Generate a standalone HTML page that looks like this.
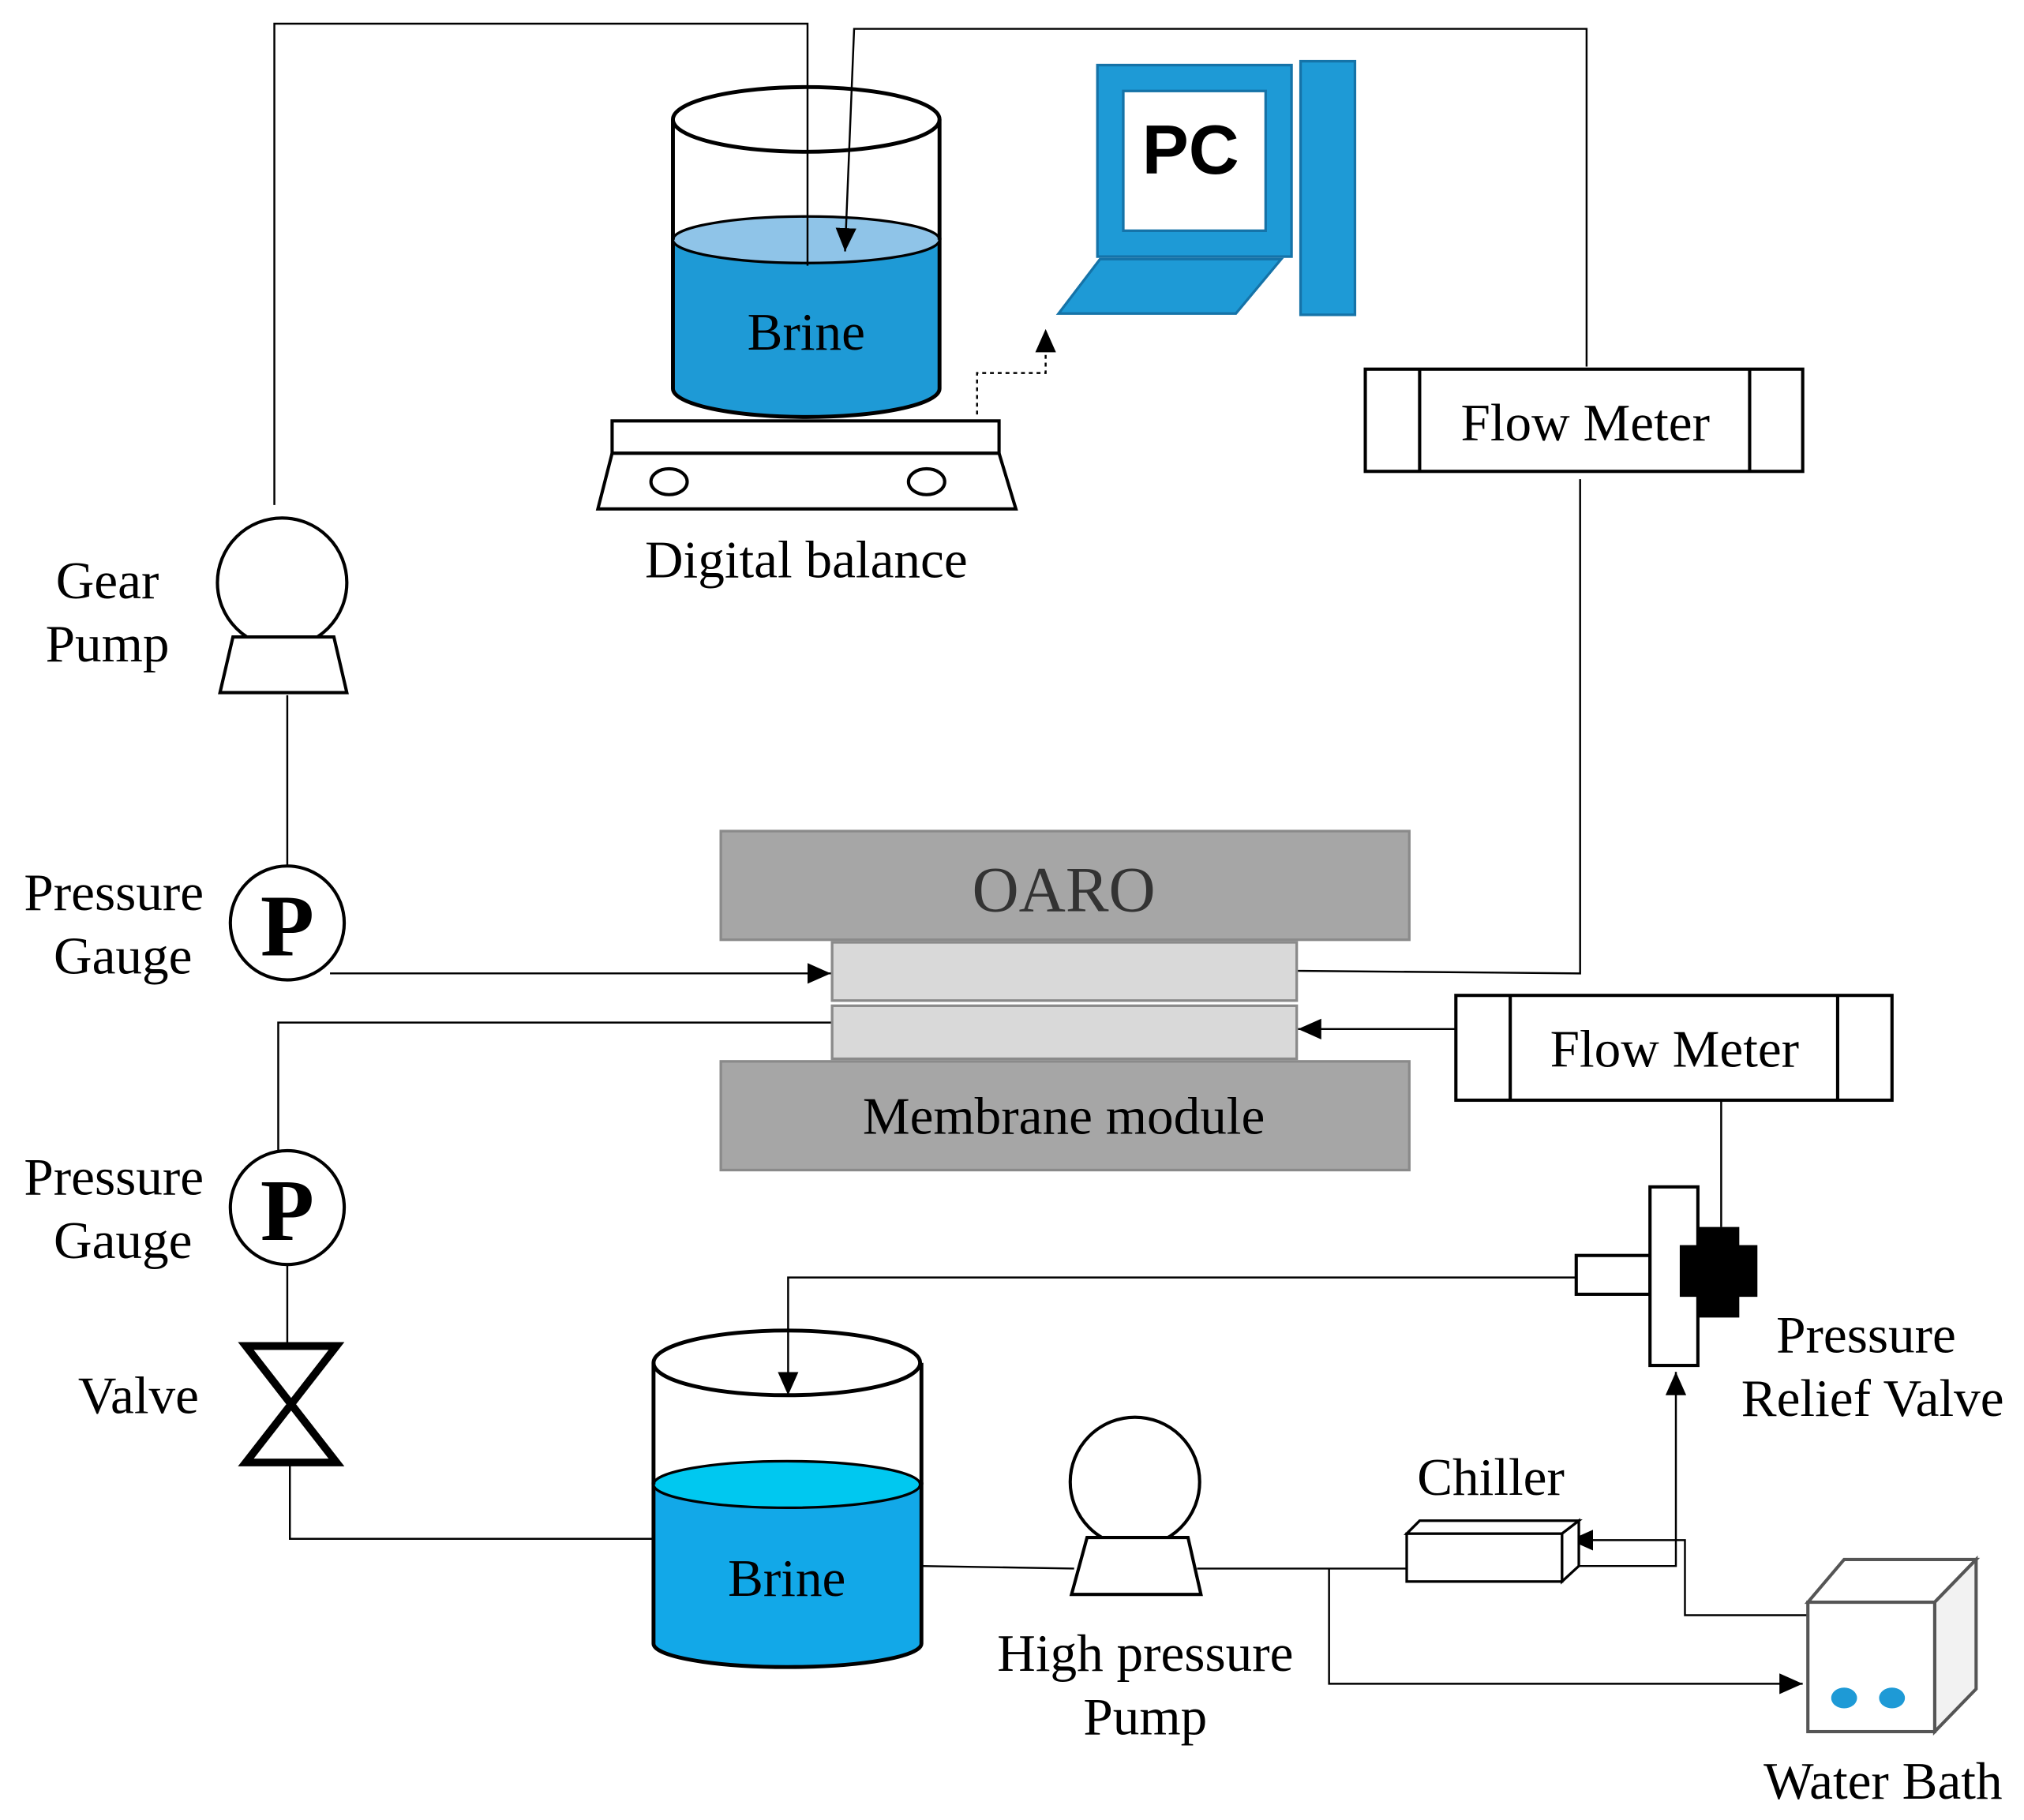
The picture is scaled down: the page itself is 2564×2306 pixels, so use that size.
<!DOCTYPE html>
<html><head><meta charset="utf-8"><style>html,body{margin:0;padding:0;background:#fff}svg{display:block}</style></head>
<body>
<svg width="2564" height="2306" viewBox="0 0 1564 1406" xmlns="http://www.w3.org/2000/svg">
<defs><marker id="b" markerWidth="20" markerHeight="20" refX="18" refY="10" orient="auto" markerUnits="userSpaceOnUse"><path d="M0,2 L18,10 L0,18 z" fill="#000"/></marker></defs>
<g font-family="Liberation Serif, serif" fill="#000">
<!-- beaker 1 -->
<path d="M520,185 L520,300 A103,22 0 0 0 726,300 L726,185 Z" fill="#1e9ad6" stroke="#000" stroke-width="3"/>
<ellipse cx="623" cy="185" rx="103" ry="18" fill="#8fc4e8" stroke="#000" stroke-width="2"/>
<line x1="520" y1="92" x2="520" y2="185" stroke="#000" stroke-width="3"/>
<line x1="726" y1="92" x2="726" y2="185" stroke="#000" stroke-width="3"/>
<ellipse cx="623" cy="92" rx="103" ry="25" fill="none" stroke="#000" stroke-width="3"/>
<text x="623" y="270" font-size="41" text-anchor="middle">Brine</text>
<g fill="none" stroke="#000" stroke-width="1.5">
<polyline points="212,390 212,18 624,18 624,205"/>
<polyline points="1226,283 1226,22 660,22 653,194" marker-end="url(#b)"/>
<polyline points="1221,370 1221,752 1002,750"/>
<line x1="222" y1="537" x2="222" y2="668"/>
<polyline points="255,752 642,752" marker-end="url(#b)"/>
<polyline points="643,790 215,790 215,890"/>
<polyline points="1125,795 1003,795" marker-end="url(#b)"/>
<line x1="222" y1="977" x2="222" y2="1038"/>
<polyline points="224,1132 224,1189 505,1189"/>
<polyline points="712,1210 830,1212"/>
<polyline points="925,1212 1087,1212"/>
<polyline points="1027,1212 1027,1301 1393,1301" marker-end="url(#b)"/>
<polyline points="1208,1210 1295,1210 1295,1060" marker-end="url(#b)"/>
<polyline points="1397,1248 1302,1248 1302,1190 1213,1190" marker-end="url(#b)"/>
<line x1="1330" y1="850" x2="1330" y2="948"/>
</g>
<polyline points="755,320 755,288 808,288 808,254" fill="none" stroke="#000" stroke-width="1.5" stroke-dasharray="3,3" marker-end="url(#b)"/>
<!-- balance -->
<rect x="473" y="325" width="299" height="25" fill="#fff" stroke="#000" stroke-width="2.5"/>
<polygon points="473,350 462,393 785,393 772,350" fill="#fff" stroke="#000" stroke-width="2.5"/>
<ellipse cx="517" cy="372" rx="14" ry="10" fill="none" stroke="#000" stroke-width="2.5"/>
<ellipse cx="716" cy="372" rx="14" ry="10" fill="none" stroke="#000" stroke-width="2.5"/>
<text x="623" y="446" font-size="41" text-anchor="middle">Digital balance</text>
<!-- PC -->
<rect x="848" y="50" width="150" height="148" fill="#1e9ad6" stroke="#1573a8" stroke-width="2"/>
<rect x="868" y="70" width="110" height="108" fill="#fff" stroke="#1573a8" stroke-width="2"/>
<text x="920" y="134" font-family="Liberation Sans, sans-serif" font-weight="bold" font-size="54" text-anchor="middle">PC</text>
<polygon points="850,200 990,200 955,242 818,242" fill="#1e9ad6" stroke="#1573a8" stroke-width="2"/>
<rect x="1005" y="47" width="42" height="196" fill="#1e9ad6" stroke="#1573a8" stroke-width="2"/>
<!-- flow meters -->
<rect x="1055" y="285" width="338" height="79" fill="#fff" stroke="#000" stroke-width="2.5"/>
<line x1="1097" y1="285" x2="1097" y2="364" stroke="#000" stroke-width="2.5"/><line x1="1352" y1="285" x2="1352" y2="364" stroke="#000" stroke-width="2.5"/>
<text x="1225" y="340" font-size="41" text-anchor="middle">Flow Meter</text>
<rect x="1125" y="769" width="337" height="81" fill="#fff" stroke="#000" stroke-width="2.5"/>
<line x1="1167" y1="769" x2="1167" y2="850" stroke="#000" stroke-width="2.5"/><line x1="1420" y1="769" x2="1420" y2="850" stroke="#000" stroke-width="2.5"/>
<text x="1294" y="824" font-size="41" text-anchor="middle">Flow Meter</text>
<!-- gear pump -->
<circle cx="218" cy="450" r="50" fill="#fff" stroke="#000" stroke-width="2.5"/>
<polygon points="180,492 258,492 268,535 170,535" fill="#fff" stroke="#000" stroke-width="2.5"/>
<text x="83" y="462" font-size="41" text-anchor="middle">Gear</text>
<text x="83" y="511" font-size="41" text-anchor="middle">Pump</text>
<!-- gauges -->
<circle cx="222" cy="713" r="44" fill="#fff" stroke="#000" stroke-width="2.5"/>
<text x="222" y="738" font-size="68" font-weight="bold" text-anchor="middle">P</text>
<text x="88" y="703" font-size="41" text-anchor="middle">Pressure</text>
<text x="95" y="752" font-size="41" text-anchor="middle">Gauge</text>
<circle cx="222" cy="933" r="44" fill="#fff" stroke="#000" stroke-width="2.5"/>
<text x="222" y="958" font-size="68" font-weight="bold" text-anchor="middle">P</text>
<text x="88" y="923" font-size="41" text-anchor="middle">Pressure</text>
<text x="95" y="972" font-size="41" text-anchor="middle">Gauge</text>
<!-- valve -->
<path d="M190,1040 L260,1040 L190,1130 L260,1130 Z" fill="none" stroke="#000" stroke-width="6"/>
<text x="107" y="1092" font-size="41" text-anchor="middle">Valve</text>
<!-- module -->
<rect x="557" y="642" width="532" height="84" fill="#a6a6a6" stroke="#8a8a8a" stroke-width="2"/>
<text x="822" y="704" font-size="50" text-anchor="middle" fill="#333">OARO</text>
<rect x="643" y="728" width="359" height="45" fill="#d9d9d9" stroke="#8a8a8a" stroke-width="2"/>
<rect x="643" y="777" width="359" height="41" fill="#d9d9d9" stroke="#8a8a8a" stroke-width="2"/>
<rect x="557" y="820" width="532" height="84" fill="#a6a6a6" stroke="#8a8a8a" stroke-width="2"/>
<text x="822" y="876" font-size="41" text-anchor="middle">Membrane module</text>
<!-- beaker 2 -->
<path d="M505,1147 L505,1270 A103,18 0 0 0 712,1270 L712,1147 Z" fill="#12a8e8" stroke="#000" stroke-width="3"/>
<ellipse cx="608" cy="1147" rx="103" ry="18" fill="#00c8f0" stroke="#000" stroke-width="2"/>
<line x1="505" y1="1053" x2="505" y2="1147" stroke="#000" stroke-width="3"/>
<line x1="712" y1="1053" x2="712" y2="1147" stroke="#000" stroke-width="3"/>
<ellipse cx="608" cy="1053" rx="103" ry="25" fill="none" stroke="#000" stroke-width="3"/>
<text x="608" y="1233" font-size="41" text-anchor="middle">Brine</text>
<polyline points="1218,987 609,987 609,1078" fill="none" stroke="#000" stroke-width="1.5" marker-end="url(#b)"/>
<!-- HP pump -->
<circle cx="877" cy="1145" r="50" fill="#fff" stroke="#000" stroke-width="2.5"/>
<polygon points="840,1188 918,1188 928,1232 828,1232" fill="#fff" stroke="#000" stroke-width="2.5"/>
<text x="885" y="1291" font-size="41" text-anchor="middle">High pressure</text>
<text x="885" y="1340" font-size="41" text-anchor="middle">Pump</text>
<!-- chiller -->
<polygon points="1087,1185 1097,1175 1220,1175 1207,1185" fill="#fff" stroke="#000" stroke-width="2"/>
<polygon points="1207,1185 1220,1175 1220,1210 1207,1222" fill="#fff" stroke="#000" stroke-width="2"/>
<rect x="1087" y="1185" width="120" height="37" fill="#fff" stroke="#000" stroke-width="2"/>
<text x="1152" y="1155" font-size="41" text-anchor="middle">Chiller</text>
<!-- relief valve -->
<rect x="1218" y="970" width="57" height="30" fill="#fff" stroke="#000" stroke-width="2.5"/>
<rect x="1275" y="917" width="37" height="138" fill="#fff" stroke="#000" stroke-width="2.5"/>
<path d="M1312,948 h32 v14 h14 v40 h-14 v16 h-32 v-16 h-14 v-40 h14 z" fill="#000"/>
<text x="1442" y="1045" font-size="41" text-anchor="middle">Pressure</text>
<text x="1447" y="1094" font-size="41" text-anchor="middle">Relief Valve</text>
<!-- water bath -->
<polygon points="1397,1238 1425,1205 1527,1205 1495,1238" fill="#fff" stroke="#555" stroke-width="2.5"/>
<polygon points="1495,1238 1527,1205 1527,1305 1495,1338" fill="#f2f2f2" stroke="#555" stroke-width="2.5"/>
<rect x="1397" y="1238" width="98" height="100" fill="#fff" stroke="#555" stroke-width="2.5"/>
<ellipse cx="1425" cy="1312" rx="10" ry="8" fill="#1e9ad6"/>
<ellipse cx="1462" cy="1312" rx="10" ry="8" fill="#1e9ad6"/>
<text x="1455" y="1390" font-size="41" text-anchor="middle">Water Bath</text>
</g>
</svg>
</body></html>
